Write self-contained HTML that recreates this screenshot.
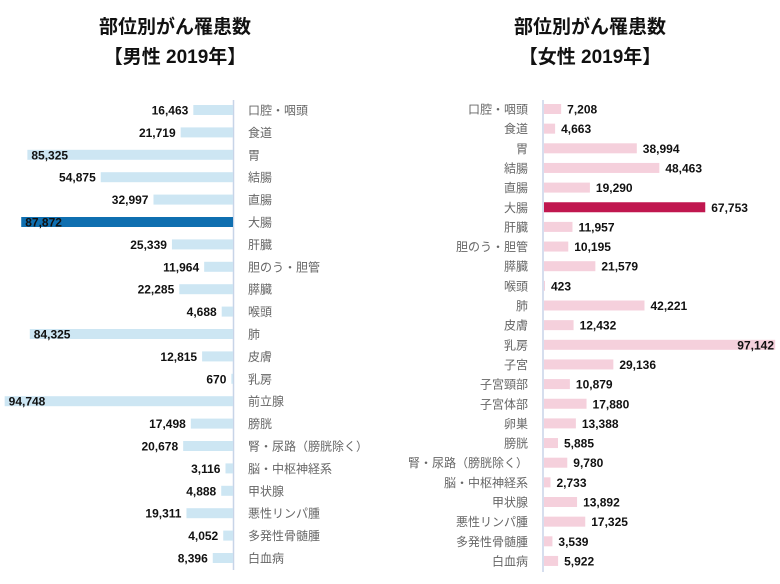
<!DOCTYPE html>
<html><head><meta charset="utf-8">
<style>
body{margin:0;width:780px;height:584px;background:#fff;overflow:hidden;position:relative;font-family:"Liberation Sans","Noto Sans CJK JP",sans-serif;}
.t{position:absolute;font-weight:bold;font-size:19px;color:#111;text-align:center;width:300px;}
</style></head><body>
<div class="t" style="left:25px;top:12px">部位別がん罹患数</div>
<div class="t" style="left:25px;top:42px">【男性 2019年】</div>
<div class="t" style="left:440px;top:12px">部位別がん罹患数</div>
<div class="t" style="left:440px;top:42px">【女性 2019年】</div>
<svg id="s" width="780" height="584" style="position:absolute;left:0;top:0" font-family="Liberation Sans, Noto Sans CJK JP, sans-serif"></svg>
<script>
var M=[["口腔・咽頭",16463],["食道",21719],["胃",85325],["結腸",54875],["直腸",32997],["大腸",87872],["肝臓",25339],["胆のう・胆管",11964],["膵臓",22285],["喉頭",4688],["肺",84325],["皮膚",12815],["乳房",670],["前立腺",94748],["膀胱",17498],["腎・尿路（膀胱除く）",20678],["脳・中枢神経系",3116],["甲状腺",4888],["悪性リンパ腫",19311],["多発性骨髄腫",4052],["白血病",8396]];
var F=[["口腔・咽頭",7208],["食道",4663],["胃",38994],["結腸",48463],["直腸",19290],["大腸",67753],["肝臓",11957],["胆のう・胆管",10195],["膵臓",21579],["喉頭",423],["肺",42221],["皮膚",12432],["乳房",97142],["子宮",29136],["子宮頸部",10879],["子宮体部",17880],["卵巣",13388],["膀胱",5885],["腎・尿路（膀胱除く）",9780],["脳・中枢神経系",2733],["甲状腺",13892],["悪性リンパ腫",17325],["多発性骨髄腫",3539],["白血病",5922]];
var h='';function f(n){return n.toLocaleString('en-US');}
h+='<line x1="233.5" y1="100" x2="233.5" y2="570" stroke="#c8d4e8" stroke-width="1.5"/>';
M.forEach(function(d,i){var y=110+i*22.4,w=d[1]*0.00241,x=233-w,big=d[0]=="大腸";
h+='<rect x="'+x+'" y="'+(y-5)+'" width="'+w+'" height="10" fill="'+(big?'#0f6fb0':'#cde6f3')+'"/>';
var tx,anc;if(x<45){tx=x+4;anc='start';}else{tx=x-5;anc='end';}
h+='<text x="'+tx+'" y="'+(y+4.5)+'" font-size="12" font-weight="bold" fill="#111" text-anchor="'+anc+'">'+f(d[1])+'</text>';
h+='<text x="248" y="'+(y+4.5)+'" font-size="12" fill="#666">'+d[0]+'</text>';});
h+='<line x1="543" y1="100" x2="543" y2="572" stroke="#c8d4e8" stroke-width="1.5"/>';
F.forEach(function(d,i){var y=109+i*19.65,w=d[1]*0.00238,big=d[0]=="大腸";
h+='<rect x="544" y="'+(y-5)+'" width="'+w+'" height="10" fill="'+(big?'#c0174f':'#f5d0dc')+'"/>';
var tx=544+w+6,anc='start';if(tx>740){tx=774;anc='end';}
h+='<text x="'+tx+'" y="'+(y+4.5)+'" font-size="12" font-weight="bold" fill="#111" text-anchor="'+anc+'">'+f(d[1])+'</text>';
h+='<text x="528" y="'+(y+4.5)+'" font-size="12" fill="#666" text-anchor="end">'+d[0]+'</text>';});
document.getElementById('s').innerHTML=h;
</script>
</body></html>
